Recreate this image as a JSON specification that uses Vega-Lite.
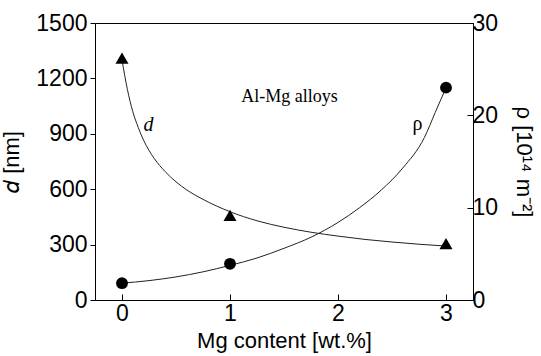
{
  "$schema": "https://vega.github.io/schema/vega-lite/v6.json",
  "width": 378,
  "height": 277,
  "autosize": {"type": "none"},
  "padding": {"left": 95, "top": 23, "right": 68, "bottom": 56},
  "background": "white",
  "config": {
    "view": {"stroke": "black", "strokeWidth": 1},
    "axis": {
      "domainColor": "black", "tickColor": "black", "labelColor": "black", "titleColor": "black",
      "labelFont": "Liberation Sans", "titleFont": "Liberation Sans",
      "labelFontSize": 23, "titleFontSize": 22, "titleFontWeight": "normal",
      "grid": false, "domainWidth": 1, "tickWidth": 1, "format": "d"
    }
  },
  "datasets": {
    "dcurve": [
      {"x": 0, "d": 1300}, {"x": 0.05, "d": 1140}, {"x": 0.1, "d": 1020}, {"x": 0.15, "d": 935},
      {"x": 0.2, "d": 865}, {"x": 0.25, "d": 810}, {"x": 0.3, "d": 765}, {"x": 0.4, "d": 695},
      {"x": 0.5, "d": 640}, {"x": 0.6, "d": 596}, {"x": 0.75, "d": 545}, {"x": 1.0, "d": 478},
      {"x": 1.25, "d": 429}, {"x": 1.5, "d": 394}, {"x": 1.75, "d": 367}, {"x": 2.0, "d": 346},
      {"x": 2.25, "d": 328}, {"x": 2.5, "d": 314}, {"x": 2.75, "d": 302}, {"x": 3.0, "d": 292}
    ],
    "rcurve": [
      {"x": 0, "r": 1.82}, {"x": 0.25, "r": 2.1}, {"x": 0.5, "r": 2.5}, {"x": 0.75, "r": 3.05},
      {"x": 1.0, "r": 3.75}, {"x": 1.25, "r": 4.55}, {"x": 1.5, "r": 5.6}, {"x": 1.75, "r": 6.8},
      {"x": 2.0, "r": 8.4}, {"x": 2.2, "r": 10.0}, {"x": 2.4, "r": 11.9}, {"x": 2.6, "r": 14.3},
      {"x": 2.8, "r": 17.6}, {"x": 2.9, "r": 20.3}, {"x": 3.0, "r": 23.0}
    ],
    "dpts": [{"x": 0, "d": 1310}, {"x": 1, "d": 458}, {"x": 3, "d": 305}],
    "rpts": [{"x": 0, "r": 1.82}, {"x": 1, "r": 3.92}, {"x": 3, "r": 23.0}],
    "labels": [
      {"x": 1.55, "d": 1100, "t": "Al-Mg alloys", "kind": "note"},
      {"x": 0.246, "d": 946, "t": "d", "kind": "italic"},
      {"x": 2.735, "d": 955, "t": "ρ", "kind": "greek"}
    ]
  },
  "layer": [
    {
      "encoding": {
        "x": {
          "field": "x", "type": "quantitative",
          "scale": {"domain": [-0.25, 3.25], "nice": false, "zero": false},
          "axis": {"values": [0, 1, 2, 3], "tickSize": -6, "labelPadding": 8, "title": "Mg content [wt.%]", "titlePadding": 5, "labelFlush": false}
        },
        "y": {
          "field": "d", "type": "quantitative",
          "scale": {"domain": [0, 1500], "nice": false},
          "axis": {"values": [0, 300, 600, 900, 1200, 1500], "tickSize": 5, "labelPadding": 3, "title": "𝑑 [nm]", "titlePadding": 12}
        }
      },
      "layer": [
        {"data": {"name": "dcurve"}, "mark": {"type": "line", "interpolate": "monotone", "color": "#222222", "strokeWidth": 1}},
        {"data": {"name": "dpts"}, "mark": {"type": "point", "shape": "triangle-up", "filled": true, "color": "black", "opacity": 1, "size": 170}},
        {"data": {"name": "labels"}, "transform": [{"filter": "datum.kind === 'note'"}],
         "mark": {"type": "text", "font": "Liberation Serif", "fontSize": 18, "color": "black", "align": "center", "baseline": "middle"},
         "encoding": {"text": {"field": "t"}}},
        {"data": {"name": "labels"}, "transform": [{"filter": "datum.kind === 'italic'"}],
         "mark": {"type": "text", "font": "Liberation Serif", "fontStyle": "italic", "fontSize": 20, "color": "black", "align": "center", "baseline": "middle"},
         "encoding": {"text": {"field": "t"}}},
        {"data": {"name": "labels"}, "transform": [{"filter": "datum.kind === 'greek'"}],
         "mark": {"type": "text", "font": "Liberation Serif", "fontSize": 20, "color": "black", "align": "center", "baseline": "middle"},
         "encoding": {"text": {"field": "t"}}}
      ]
    },
    {
      "encoding": {
        "x": {"field": "x", "type": "quantitative", "scale": {"domain": [-0.25, 3.25], "nice": false, "zero": false}},
        "y": {
          "field": "r", "type": "quantitative",
          "scale": {"domain": [0, 30], "nice": false},
          "axis": {"orient": "right", "values": [0, 10, 20, 30], "tickSize": -6, "labelPadding": 5, "title": "ρ [10¹⁴ m⁻²]", "titleAngle": 90, "titlePadding": 14}
        }
      },
      "layer": [
        {"data": {"name": "rcurve"}, "mark": {"type": "line", "interpolate": "monotone", "color": "#222222", "strokeWidth": 1}},
        {"data": {"name": "rpts"}, "mark": {"type": "point", "shape": "circle", "filled": true, "color": "black", "opacity": 1, "size": 140}}
      ]
    }
  ],
  "resolve": {"scale": {"y": "independent"}, "axis": {"y": "independent"}}
}
